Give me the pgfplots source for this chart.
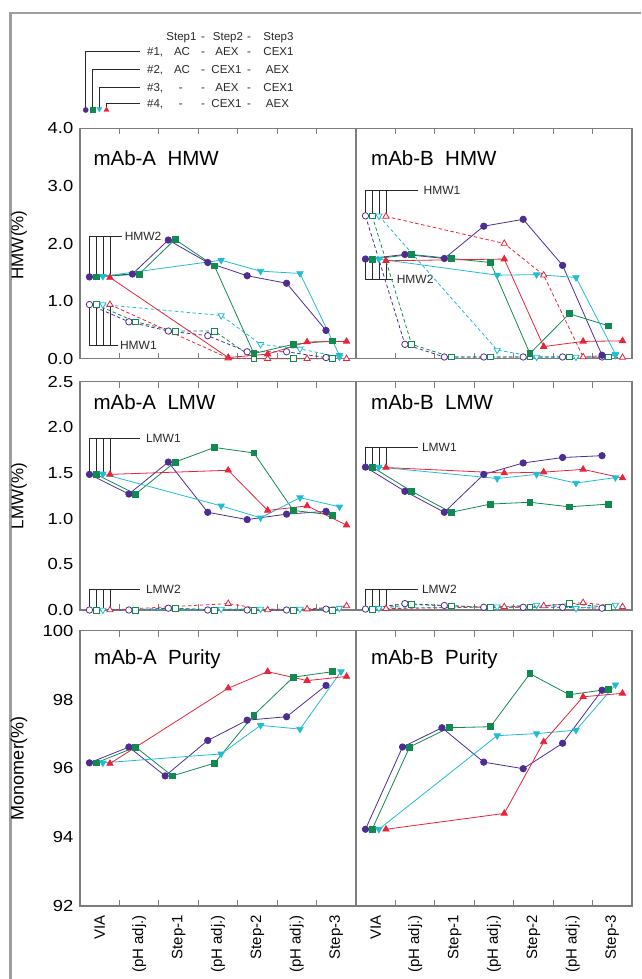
\documentclass[border=0pt]{standalone}
\usepackage{fontspec}
\setmainfont{Liberation Sans}
\usepackage{pgfplots}
\pgfplotsset{compat=1.18}

\definecolor{cP}{RGB}{78,45,145}
\definecolor{cG}{RGB}{16,138,80}
\definecolor{cC}{RGB}{34,188,210}
\definecolor{cR}{RGB}{232,36,58}
\definecolor{cAx}{RGB}{125,125,125}
\definecolor{cT}{RGB}{40,40,40}
\definecolor{cF}{RGB}{158,158,158}

\newcommand\fs[1]{\fontsize{#1}{#1}\selectfont}

\pgfplotsset{
  panel/.style={
    scale only axis, width=276pt, xmin=0, xmax=7, clip=false,
    axis line style={draw=cAx, line width=1.3pt},
    xtick={0.5,1.5,2.5,3.5,4.5,5.5,6.5}, minor xtick={1,2,3,4,5,6},
    major tick length=0pt, minor tick length=6pt,
    tick align=inside, tick pos=both,
    tick style={draw=cAx, line width=1.1pt},
    xticklabels={},
    /pgf/number format/assume math mode=true,
    yticklabel style={font=\fs{16}, inner sep=0pt, xshift=-6.5pt, xscale=1.15},
  },
  bottomrow/.style={
    xticklabels={VIA,(pH adj.),Step-1,(pH adj.),Step-2,(pH adj.),Step-3},
    xticklabel style={rotate=90, anchor=east, inner sep=0pt, font=\fs{15}},
    xticklabel shift=9pt,
  },
  sA/.style={draw=cP, line width=0.8pt, mark=*, mark size=3.2pt, mark options={fill=cP, draw=cP, solid}},
  sB/.style={draw=cG, line width=0.8pt, mark=square*, mark size=2.9pt, mark options={fill=cG, draw=cG, solid}},
  sC/.style={draw=cC, line width=0.8pt, mark=triangle*, mark size=3.6pt, mark options={fill=cC, draw=cC, solid, rotate=180}},
  sD/.style={draw=cR, line width=0.8pt, mark=triangle*, mark size=3.6pt, mark options={fill=cR, draw=cR, solid}},
  oA/.style={draw=cP, line width=0.8pt, dash pattern=on 3.5pt off 2.5pt, mark=*, mark size=3.2pt, mark options={fill=white, draw=cP, solid}},
  oB/.style={draw=cG, line width=0.8pt, dash pattern=on 3.5pt off 2.5pt, mark=square*, mark size=2.9pt, mark options={fill=white, draw=cG, solid}},
  oC/.style={draw=cC, line width=0.8pt, dash pattern=on 3.5pt off 2.5pt, mark=triangle*, mark size=3.6pt, mark options={fill=white, draw=cC, solid, rotate=180}},
  oD/.style={draw=cR, line width=0.8pt, dash pattern=on 3.5pt off 2.5pt, mark=triangle*, mark size=3.6pt, mark options={fill=white, draw=cR, solid}},
}

\tikzset{ann/.style={draw=cT, line width=0.7pt}}

% bracket: from marker level #1 to line level #2, line ends at #3, label #4 at x #5
\newcommand\brk[5]{%
  \draw[ann] (axis cs:0.24,#1) -- (axis cs:0.24,#2) -- (axis cs:#3,#2);
  \draw[ann] (axis cs:0.41,#1) -- (axis cs:0.41,#2);
  \draw[ann] (axis cs:0.58,#1) -- (axis cs:0.58,#2);
  \draw[ann] (axis cs:0.76,#1) -- (axis cs:0.76,#2);
  \node[anchor=west, inner sep=0pt, font=\fs{12}, text=cT] at (axis cs:#5,#2) {#4};
}

\begin{document}
\begin{tikzpicture}
\useasboundingbox (0pt,0pt) rectangle (641pt,-979pt);

% ---- row 1: HMW ----
\begin{axis}[panel, at={(80pt,-128.3pt)}, anchor=north west, height=230.4pt,
  ymin=0, ymax=4, ytick={0,1,2,3,4},
  yticklabel style={/pgf/number format/.cd, fixed, fixed zerofill, precision=1}]
  \brk{1.42}{2.13}{1.06}{HMW2}{1.13}
  \brk{0.94}{0.24}{0.97}{HMW1}{1.01}
  \addplot[oA] coordinates {(0.24,0.94)(1.24,0.64)(2.24,0.48)(3.24,0.40)(4.24,0.12)(5.24,0.12)(6.24,0.02)};
  \addplot[oB] coordinates {(0.41,0.94)(1.41,0.64)(2.41,0.48)(3.41,0.48)(4.41,0.0)(5.41,0.0)(6.41,0.0)};
  \addplot[oC] coordinates {(0.58,0.94)(3.58,0.75)(4.58,0.25)(5.58,0.17)(6.58,0.03)};
  \addplot[oD] coordinates {(0.76,0.94)(3.76,0.01)(4.76,0.0)(5.76,0.0)(6.76,0.0)};
  \addplot[sA] coordinates {(0.24,1.42)(1.33,1.47)(2.24,2.06)(3.24,1.67)(4.24,1.44)(5.24,1.31)(6.24,0.49)};
  \addplot[sB] coordinates {(0.41,1.42)(1.50,1.47)(2.41,2.07)(3.41,1.61)(4.41,0.09)(5.41,0.25)(6.41,0.31)};
  \addplot[sC] coordinates {(0.58,1.43)(3.58,1.71)(4.58,1.52)(5.58,1.48)(6.58,0.06)};
  \addplot[sD] coordinates {(0.76,1.41)(3.76,0.02)(4.76,0.08)(5.76,0.29)(6.76,0.30)};
\end{axis}

\begin{axis}[panel, at={(356pt,-128.3pt)}, anchor=north west, height=230.4pt,
  ymin=0, ymax=4, ytick={0,1,2,3,4}, yticklabels={}]
  \brk{2.48}{2.92}{1.58}{HMW1}{1.71}
  \brk{1.73}{1.38}{0.95}{HMW2}{1.03}
  \addplot[oA] coordinates {(0.24,2.48)(1.24,0.25)(2.24,0.03)(3.24,0.03)(4.24,0.03)(5.24,0.03)(6.24,0.03)};
  \addplot[oB] coordinates {(0.41,2.48)(1.41,0.25)(2.41,0.03)(3.41,0.03)(4.41,0.03)(5.41,0.03)(6.41,0.03)};
  \addplot[oC] coordinates {(0.58,2.48)(3.58,0.15)(4.58,0.03)(5.58,0.03)(6.58,0.06)};
  \addplot[oD] coordinates {(0.76,2.47)(3.76,2.00)(4.76,1.45)(5.76,0.03)(6.76,0.02)};
  \addplot[sA] coordinates {(0.24,1.73)(1.24,1.81)(2.24,1.74)(3.24,2.30)(4.24,2.42)(5.24,1.62)(6.24,0.06)};
  \addplot[sB] coordinates {(0.41,1.73)(1.41,1.81)(2.41,1.74)(3.41,1.67)(4.41,0.09)(5.41,0.78)(6.41,0.57)};
  \addplot[sC] coordinates {(0.58,1.73)(3.58,1.45)(4.58,1.46)(5.58,1.41)(6.58,0.08)};
  \addplot[sD] coordinates {(0.76,1.70)(3.76,1.73)(4.76,0.21)(5.76,0.30)(6.76,0.31)};
\end{axis}

% ---- row 2: LMW ----
\begin{axis}[panel, at={(80pt,-381.7pt)}, anchor=north west, height=228.3pt,
  ymin=0, ymax=2.5, ytick={0,0.5,1,1.5,2,2.5},
  yticklabel style={/pgf/number format/.cd, fixed, fixed zerofill, precision=1}]
  \brk{1.49}{1.88}{1.52}{LMW1}{1.67}
  \brk{0}{0.23}{1.52}{LMW2}{1.67}
  \addplot[oA] coordinates {(0.24,0)(1.24,0)(2.24,0.02)(3.24,0)(4.24,0)(5.24,0)(6.24,0.01)};
  \addplot[oB] coordinates {(0.41,0)(1.41,0)(2.41,0.02)(3.41,0)(4.41,0)(5.41,0)(6.41,0)};
  \addplot[oC] coordinates {(0.58,0)(3.58,0.01)(4.58,0.01)(5.58,0.01)(6.58,0.02)};
  \addplot[oD] coordinates {(0.76,0)(3.76,0.07)(4.76,0)(5.76,0.01)(6.76,0.045)};
  \addplot[sA] coordinates {(0.24,1.485)(1.24,1.27)(2.24,1.62)(3.24,1.07)(4.24,0.99)(5.24,1.05)(6.24,1.08)};
  \addplot[sB] coordinates {(0.41,1.485)(1.41,1.27)(2.41,1.62)(3.41,1.78)(4.41,1.72)(5.41,1.09)(6.41,1.04)};
  \addplot[sC] coordinates {(0.58,1.49)(3.58,1.14)(4.58,1.01)(5.58,1.23)(6.58,1.13)};
  \addplot[sD] coordinates {(0.76,1.485)(3.76,1.53)(4.76,1.09)(5.76,1.14)(6.76,0.93)};
\end{axis}

\begin{axis}[panel, at={(356pt,-381.7pt)}, anchor=north west, height=228.3pt,
  ymin=0, ymax=2.5, ytick={0,0.5,1,1.5,2,2.5}, yticklabels={}]
  \brk{1.565}{1.78}{1.56}{LMW1}{1.67}
  \brk{0}{0.225}{1.56}{LMW2}{1.67}
  \addplot[oA] coordinates {(0.24,0.01)(1.24,0.07)(2.24,0.05)(3.24,0.03)(4.24,0.03)(5.24,0.03)(6.24,0.02)};
  \addplot[oB] coordinates {(0.41,0.01)(1.41,0.06)(2.41,0.045)(3.41,0.03)(4.41,0.035)(5.41,0.07)(6.41,0.03)};
  \addplot[oC] coordinates {(0.58,0.02)(3.58,0.035)(4.58,0.055)(5.58,0.02)(6.58,0.055)};
  \addplot[oD] coordinates {(0.76,0.015)(3.76,0.035)(4.76,0.045)(5.76,0.08)(6.76,0.035)};
  \addplot[sA] coordinates {(0.24,1.565)(1.24,1.30)(2.24,1.07)(3.24,1.485)(4.24,1.61)(5.24,1.67)(6.24,1.69)};
  \addplot[sB] coordinates {(0.41,1.565)(1.41,1.30)(2.41,1.07)(3.41,1.16)(4.41,1.18)(5.41,1.13)(6.41,1.16)};
  \addplot[sC] coordinates {(0.58,1.565)(3.58,1.44)(4.58,1.485)(5.58,1.39)(6.58,1.45)};
  \addplot[sD] coordinates {(0.76,1.56)(3.76,1.50)(4.76,1.51)(5.76,1.54)(6.76,1.445)};
\end{axis}

% ---- row 3: Purity ----
\begin{axis}[panel, bottomrow, at={(80pt,-630.7pt)}, anchor=north west, height=275.3pt,
  ymin=92, ymax=100, ytick={92,94,96,98,100}]
  \addplot[sA] coordinates {(0.24,96.16)(1.24,96.62)(2.16,95.78)(3.24,96.81)(4.24,97.40)(5.24,97.50)(6.24,98.41)};
  \addplot[sB] coordinates {(0.41,96.16)(1.41,96.62)(2.34,95.78)(3.41,96.15)(4.41,97.55)(5.41,98.65)(6.41,98.81)};
  \addplot[sC] coordinates {(0.58,96.16)(3.58,96.42)(4.58,97.25)(5.58,97.14)(6.62,98.81)};
  \addplot[sD] coordinates {(0.76,96.14)(3.76,98.33)(4.76,98.81)(5.76,98.55)(6.76,98.67)};
\end{axis}

\begin{axis}[panel, bottomrow, at={(356pt,-630.7pt)}, anchor=north west, height=275.3pt,
  ymin=92, ymax=100, ytick={92,94,96,98,100}, yticklabels={}]
  \addplot[sA] coordinates {(0.24,94.23)(1.18,96.62)(2.18,97.18)(3.24,96.18)(4.24,95.99)(5.24,96.73)(6.24,98.27)};
  \addplot[sB] coordinates {(0.41,94.23)(1.36,96.62)(2.36,97.18)(3.41,97.21)(4.41,98.75)(5.41,98.14)(6.41,98.30)};
  \addplot[sC] coordinates {(0.58,94.23)(3.58,96.95)(4.58,97.01)(5.58,97.11)(6.58,98.43)};
  \addplot[sD] coordinates {(0.76,94.23)(3.76,94.69)(4.76,96.77)(5.76,98.08)(6.76,98.18)};
\end{axis}

% ---- overlay in pixel units: frame, legend, titles, axis labels ----
\begin{axis}[at={(0pt,0pt)}, anchor=north west, scale only axis, width=641pt, height=979pt,
  xmin=0, xmax=641, ymin=-979, ymax=0, hide axis, clip=false]
  \draw[cF, line width=2.6pt] (axis cs:10.6,-979) -- (axis cs:10.6,-13) -- (axis cs:641,-13);
  % legend leader lines
  \draw[ann] (axis cs:85.7,-110) -- (axis cs:85.7,-51.7) -- (axis cs:140,-51.7);
  \draw[ann] (axis cs:92.5,-110) -- (axis cs:92.5,-69.3) -- (axis cs:140,-69.3);
  \draw[ann] (axis cs:99.3,-110) -- (axis cs:99.3,-87.3) -- (axis cs:140,-87.3);
  \draw[ann] (axis cs:106.5,-110) -- (axis cs:106.5,-103.3) -- (axis cs:140,-103.3);
  \addplot[only marks, mark=*, mark size=2.6pt, cP] coordinates {(85.7,-110)};
  \addplot[only marks, mark=square*, mark size=2.4pt, cG] coordinates {(92.5,-110)};
  \addplot[only marks, mark=triangle*, mark size=3pt, cC, mark options={rotate=180}] coordinates {(99.3,-109)};
  \addplot[only marks, mark=triangle*, mark size=3pt, cR] coordinates {(106.5,-110)};
  % legend text
  \begin{scope}[every node/.style={anchor=base, inner sep=0pt, font=\fs{11.5}, text=cT}]
    \node at (axis cs:181.5,-41) {Step1};
    \node at (axis cs:203,-41) {-};
    \node at (axis cs:228,-41) {Step2};
    \node at (axis cs:249,-41) {-};
    \node at (axis cs:278.5,-41) {Step3};
    \node[anchor=base west] at (axis cs:147,-56) {\#1,};
    \node at (axis cs:182,-56) {AC};
    \node at (axis cs:203,-56) {-};
    \node at (axis cs:227,-56) {AEX};
    \node at (axis cs:249,-56) {-};
    \node at (axis cs:278.5,-56) {CEX1};
    \node[anchor=base west] at (axis cs:147,-73.6) {\#2,};
    \node at (axis cs:182,-73.6) {AC};
    \node at (axis cs:203,-73.6) {-};
    \node at (axis cs:226.5,-73.6) {CEX1};
    \node at (axis cs:249,-73.6) {-};
    \node at (axis cs:277.5,-73.6) {AEX};
    \node[anchor=base west] at (axis cs:147,-91.6) {\#3,};
    \node at (axis cs:180.7,-91.6) {-};
    \node at (axis cs:203,-91.6) {-};
    \node at (axis cs:227,-91.6) {AEX};
    \node at (axis cs:249,-91.6) {-};
    \node at (axis cs:278.5,-91.6) {CEX1};
    \node[anchor=base west] at (axis cs:147,-107.6) {\#4,};
    \node at (axis cs:180.7,-107.6) {-};
    \node at (axis cs:203,-107.6) {-};
    \node at (axis cs:226.5,-107.6) {CEX1};
    \node at (axis cs:249,-107.6) {-};
    \node at (axis cs:277.5,-107.6) {AEX};
  \end{scope}
  % panel titles
  \begin{scope}[every node/.style={anchor=base west, inner sep=0pt, font=\fs{20.5}, text=black}]
    \node at (axis cs:93.3,-165) {mAb-A\ \ HMW};
    \node at (axis cs:371,-165) {mAb-B\ \ HMW};
    \node at (axis cs:93.3,-409) {mAb-A\ \ LMW};
    \node at (axis cs:371,-409) {mAb-B\ \ LMW};
    \node at (axis cs:94,-664) {mAb-A\ \ Purity};
    \node at (axis cs:371,-664) {mAb-B\ \ Purity};
  \end{scope}
  % y axis labels
  \node[rotate=90, font=\fs{17}] at (axis cs:19,-245) {HMW(\%)};
  \node[rotate=90, font=\fs{17}] at (axis cs:19,-496) {LMW(\%)};
  \node[rotate=90, font=\fs{18}] at (axis cs:19,-768) {Monomer(\%)};
\end{axis}
\end{tikzpicture}
\end{document}
